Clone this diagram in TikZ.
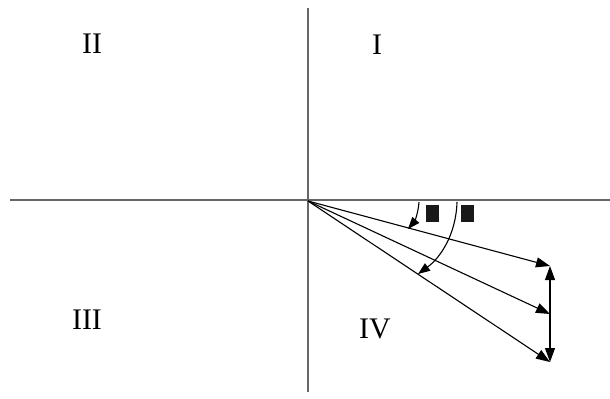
\documentclass[tikz,border=0pt]{standalone}
\usepackage{fontspec}
\setmainfont{Liberation Serif}
\usetikzlibrary{arrows.meta}

\begin{document}
\begin{tikzpicture}[
    x=1bp, y=-1bp,
    axis/.style={draw=black!60, line width=1.8bp},
    vec/.style={draw=black, line width=1.1bp, -{Triangle[length=14bp,width=10bp]}},
    quad/.style={font=\fontsize{30}{30}\selectfont, inner sep=0pt},
    blot/.style={fill=black!90, minimum width=13bp, minimum height=17bp, inner sep=0pt}
  ]
  \useasboundingbox (0,0) rectangle (610,398);

  % axes
  \coordinate (xl) at (10,200);
  \coordinate (xr) at (610,200);
  \coordinate (yt) at (308,8);
  \coordinate (yb) at (308,392);
  \draw[axis] (xl) -- (xr);
  \draw[axis] (yt) -- (yb);

  % quadrant labels
  \node[quad] (q1) at (377,45) {I};
  \node[quad] (q2) at (92,44) {II};
  \node[quad] (q3) at (87,320) {III};
  \node[quad] (q4) at (375,329) {IV};

  % vectors
  \coordinate (O) at (308,201);
  \coordinate (A) at (550,266);
  \coordinate (B) at (550,314);
  \coordinate (C) at (550,362);
  \draw[vec] (O) -- (A);
  \draw[vec] (O) -- (B);
  \draw[vec] (O) -- (C);
  \draw[vec, {Triangle[length=14bp,width=10bp]}-{Triangle[length=14bp,width=10bp]}] (A) -- (C);

  % angle arcs
  \coordinate (s1) at (419,202);
  \coordinate (e1) at (408,229);
  \coordinate (s2) at (457,202);
  \coordinate (e2) at (418,274);
  \draw[vec, -{Triangle[length=12bp,width=9bp]}] (s1) .. controls (418,215) and (414,222) .. (e1);
  \draw[vec, -{Triangle[length=12bp,width=9bp]}] (s2) .. controls (456,235) and (440,258) .. (e2);

  \node[blot] (phi1) at (432,213) {};
  \node[blot] (phi2) at (467,213) {};
\end{tikzpicture}
\end{document}
